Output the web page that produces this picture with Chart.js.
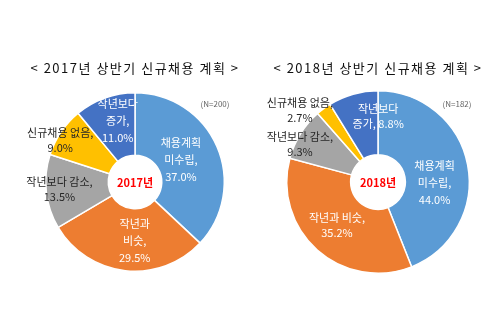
<!DOCTYPE html>
<html>
<head>
<meta charset="utf-8">
<script src="https://cdn.jsdelivr.net/npm/chart.js@4/dist/chart.umd.min.js"></script>
<style>
    html, body { margin: 0; padding: 0; background: #fff; }
    .wrap { position: relative; width: 500px; height: 333px; }
    .box { position: absolute; top: 0; width: 250px; height: 333px; }
</style>
</head>
<body>
<div class="wrap">
    <div class="box" style="left:0"><canvas id="chart2017"></canvas></div>
    <div class="box" style="left:250px"><canvas id="chart2018"></canvas></div>
</div>
<script>
/* ===== 데이터 ===== */
const categories = ['채용계획 미수립', '작년과 비슷', '작년보다 감소', '신규채용 없음', '작년보다 증가'];
const share2017 = [37.0, 29.5, 13.5, 9.0, 11.0];
const share2018 = [44.0, 35.2, 9.3, 2.7, 8.8];
const labelText2017 = ['채용계획\n미수립,\n', '작년과\n비슷,\n', '작년보다 감소,\n', '신규채용 없음,\n', '작년보다\n증가,\n'];
const labelText2018 = ['채용계획\n미수립,\n', '작년과 비슷,\n', '작년보다 감소,\n', '신규채용 없음,\n', '작년보다\n증가, '];
const titles = ['< 2017년 상반기 신규채용 계획 >', '< 2018년 상반기 신규채용 계획 >'];
const centerText = ['2017년', '2018년'];
const sampleText = ['(N=200)', '(N=182)'];

const sliceColors = ['#5B9BD5', '#ED7D31', '#A5A5A5', '#FFC000', '#4472C4'];
const labelColors = ['#ffffff', '#ffffff', '#262626', '#262626', '#ffffff'];
const FONT = '"Noto Sans CJK KR", "Noto Sans", sans-serif';

// 라벨 위치: [반지름 비율, 각도 보정(도)]
const labelPos2017 = [[0.57, -2], [0.66, -6], [0.85, 1], [0.96, -5], [0.71, 4]];
const labelPos2018 = [[0.62, 12], [0.65, 2], [0.95, -6], [1.16, -11], [0.72, 16]];

// 도넛 위 텍스트 그리기
const donutText = {
    id: 'donutText',
    afterDatasetsDraw(chart, args, opts) {
        const ctx = chart.ctx;
        const meta = chart.getDatasetMeta(0);
        const values = chart.data.datasets[0].data;
        const first = meta.data[0];
        const cx = first.x, cy = first.y;

        ctx.save();
        ctx.textAlign = 'center';
        ctx.textBaseline = 'middle';

        // 제목
        ctx.fillStyle = '#111';
        ctx.font = '13px ' + FONT;
        ctx.letterSpacing = '1.5px';
        ctx.fillText(opts.title, cx, 68);
        ctx.letterSpacing = '0px';

        // (N=...)
        ctx.fillStyle = '#666';
        ctx.font = '8px ' + FONT;
        ctx.fillText(opts.sample, cx + opts.sampleDx, 104);

        // 가운데 연도
        ctx.fillStyle = '#FF0000';
        ctx.font = 'bold 11px ' + FONT;
        ctx.fillText(opts.center, cx, cy + 1);

        // 데이터 라벨
        ctx.font = '11px ' + FONT;
        meta.data.forEach((arc, i) => {
            const p = arc.getProps(['startAngle', 'endAngle', 'outerRadius'], true);
            const [f, nudge] = opts.pos[i];
            const ang = (p.startAngle + p.endAngle) / 2 + nudge * Math.PI / 180;
            const x = cx + Math.cos(ang) * p.outerRadius * f;
            const y = cy + Math.sin(ang) * p.outerRadius * f;
            const lines = (opts.text[i] + values[i].toFixed(1) + '%').split('\n');
            const lh = lines.length > 2 ? 17 : 15;
            const top = y - (lines.length - 1) * lh / 2;
            ctx.fillStyle = labelColors[i];
            lines.forEach((ln, k) => ctx.fillText(ln, x, top + k * lh));
        });
        ctx.restore();
    }
};

function makeDonut(id, values, padding, opts) {
    return new Chart(document.getElementById(id), {
        type: 'doughnut',
        data: {
            labels: categories,
            datasets: [{
                data: values,
                backgroundColor: sliceColors,
                borderColor: '#ffffff',
                borderWidth: 1.5
            }]
        },
        options: {
            responsive: true,
            maintainAspectRatio: false,
            animation: false,
            cutout: '30%',
            layout: { padding: padding },
            plugins: {
                legend: { display: false },
                tooltip: { enabled: false },
                donutText: opts
            }
        },
        plugins: [donutText]
    });
}

makeDonut('chart2017', share2017, { left: 45, right: 25, top: 92, bottom: 61 }, {
    title: titles[0], center: centerText[0], sample: sampleText[0], sampleDx: 80,
    text: labelText2017, pos: labelPos2017
});
makeDonut('chart2018', share2018, { left: 36, right: 30, top: 90, bottom: 59 }, {
    title: titles[1], center: centerText[1], sample: sampleText[1], sampleDx: 79,
    text: labelText2018, pos: labelPos2018
});
</script>
</body>
</html>
